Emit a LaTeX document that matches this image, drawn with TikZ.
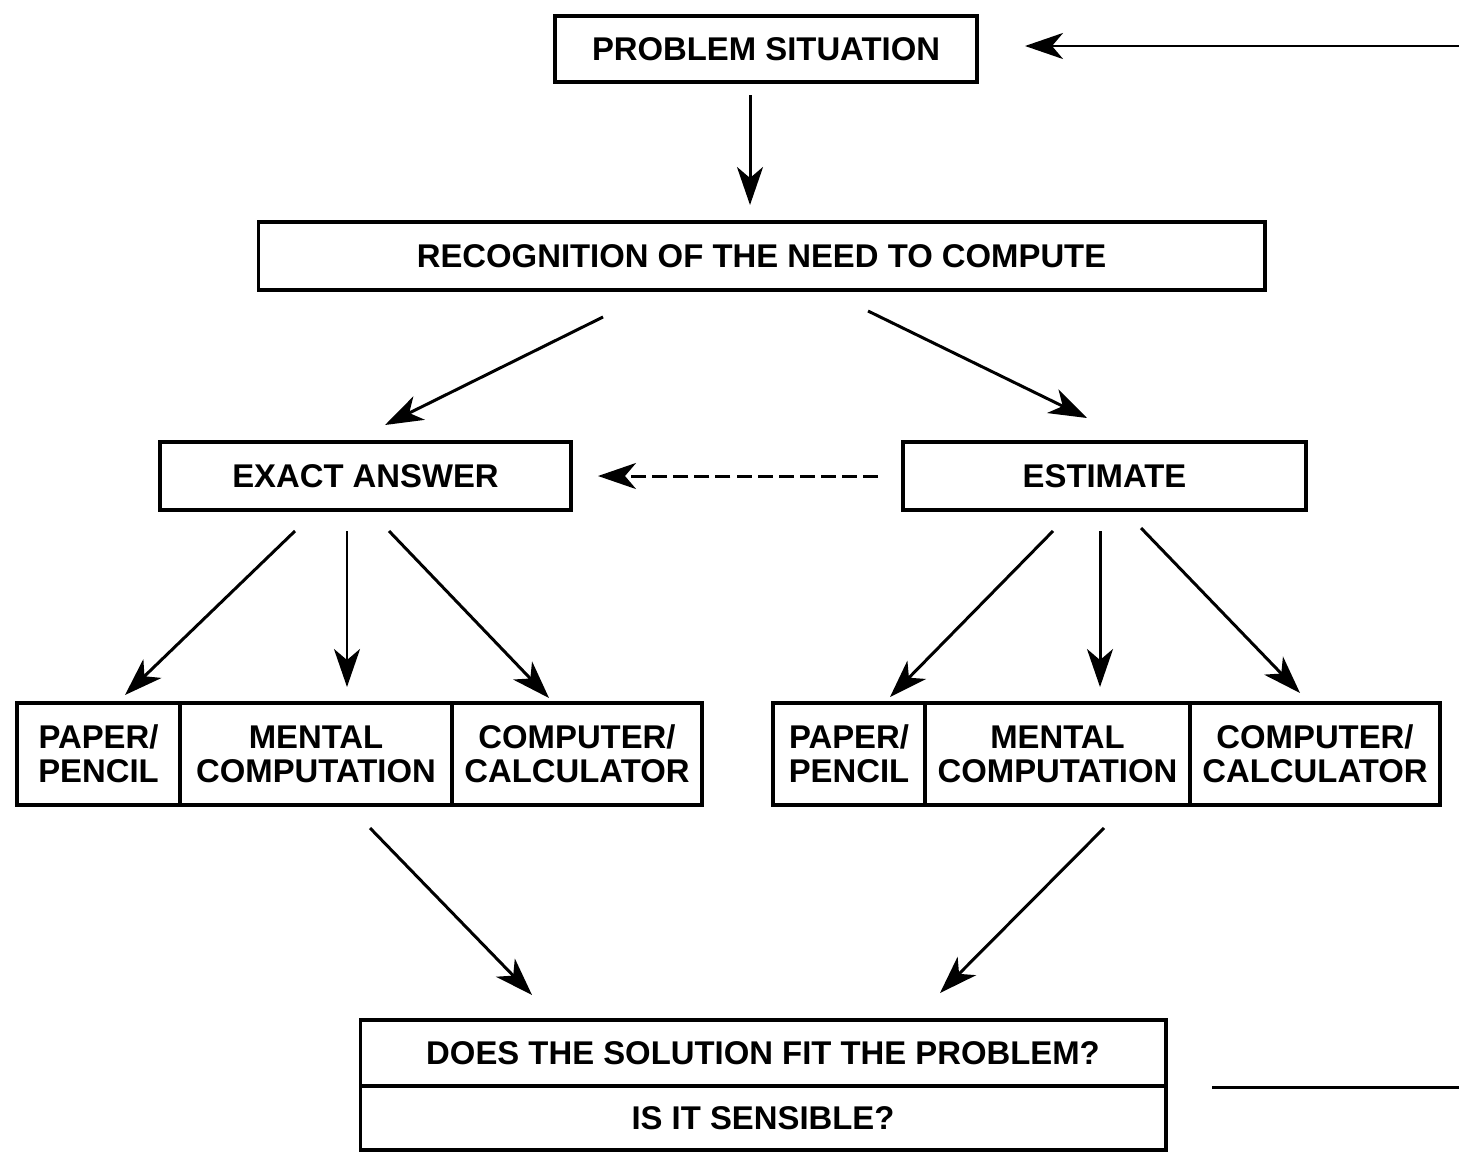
\documentclass[tikz,border=0pt]{standalone}
\usepackage{fontspec}
\setmainfont{Liberation Sans}
\usetikzlibrary{arrows.meta}
\begin{document}
\begin{tikzpicture}[x=0.02cm,y=-0.02cm,
  box/.style={draw, line width=1.8pt, inner sep=0pt, align=center,
    font=\fontsize{18.7}{19.5}\selectfont\bfseries},
  arr/.style={line width=1.7pt, -{Stealth[length=0.76cm,width=0.52cm,inset=0.22cm]}},
  dasharr/.style={arr, dash pattern=on 8.5pt off 3.5pt}
]
\useasboundingbox[fill=white] (0,0) rectangle (1459,1153);

% top
\node[box, minimum width=8.44cm, minimum height=1.32cm] (ps) at (766,49) {PROBLEM SITUATION};
\node[box, minimum width=20.14cm, minimum height=1.36cm] (rec) at (761.5,256) {RECOGNITION OF THE NEED TO COMPUTE};

% middle
\node[box, minimum width=8.22cm, minimum height=1.36cm] (exact) at (365.5,476) {EXACT ANSWER};
\node[box, minimum width=8.06cm, minimum height=1.36cm] (est) at (1104.5,476) {ESTIMATE};

% left triple
\node[box, minimum width=3.26cm, minimum height=2.04cm] (lpp) at (98.5,754) {PAPER/\\PENCIL};
\node[box, minimum width=5.44cm, minimum height=2.04cm] (lmc) at (316,754) {MENTAL\\COMPUTATION};
\node[box, minimum width=5.00cm, minimum height=2.04cm] (lcc) at (577,754) {COMPUTER/\\CALCULATOR};

% right triple
\node[box, minimum width=3.04cm, minimum height=2.04cm] (rpp) at (849,754) {PAPER/\\PENCIL};
\node[box, minimum width=5.30cm, minimum height=2.04cm] (rmc) at (1057.5,754) {MENTAL\\COMPUTATION};
\node[box, minimum width=5.00cm, minimum height=2.04cm] (rcc) at (1315,754) {COMPUTER/\\CALCULATOR};

% bottom
\node[box, minimum width=16.12cm, minimum height=1.32cm] (fit) at (763,1053) {DOES THE SOLUTION FIT THE PROBLEM?};
\node[box, minimum width=16.12cm, minimum height=1.28cm] (sens) at (763,1118) {IS IT SENSIBLE?};

% connector ends
\coordinate (ps0) at (750,95);    \coordinate (rec0) at (750,205);
\coordinate (back0) at (1459,46); \coordinate (back1) at (1025,46);
\coordinate (re1) at (603,317);   \coordinate (ex0) at (385,425);
\coordinate (re2) at (868,311);   \coordinate (es0) at (1087,418);
\coordinate (es1) at (878,476);   \coordinate (ex1) at (598,476);
\coordinate (ea1) at (295,531);   \coordinate (lpp0) at (125,695);
\coordinate (ea2) at (347,531);   \coordinate (lmc0) at (347,687);
\coordinate (ea3) at (389,531);   \coordinate (lcc0) at (549,698);
\coordinate (eb1) at (1053,531);  \coordinate (rpp0) at (890,697);
\coordinate (eb2) at (1100,531);  \coordinate (rmc0) at (1100,687);
\coordinate (eb3) at (1141,528);  \coordinate (rcc0) at (1300,693);
\coordinate (lt) at (370,828);    \coordinate (fit1) at (532,995);
\coordinate (rt) at (1104,828);   \coordinate (fit2) at (940,993);
\coordinate (out0) at (1212,1087); \coordinate (out1) at (1459,1087);

\draw[arr] (ps0) -- (rec0);
\draw[arr] (back0) -- (back1);
\draw[arr] (re1) -- (ex0);
\draw[arr] (re2) -- (es0);
\draw[dasharr] (es1) -- (ex1);
\draw[arr] (ea1) -- (lpp0);
\draw[arr] (ea2) -- (lmc0);
\draw[arr] (ea3) -- (lcc0);
\draw[arr] (eb1) -- (rpp0);
\draw[arr] (eb2) -- (rmc0);
\draw[arr] (eb3) -- (rcc0);
\draw[arr] (lt) -- (fit1);
\draw[arr] (rt) -- (fit2);
\draw[line width=1.7pt] (out0) -- (out1);
\end{tikzpicture}
\end{document}
